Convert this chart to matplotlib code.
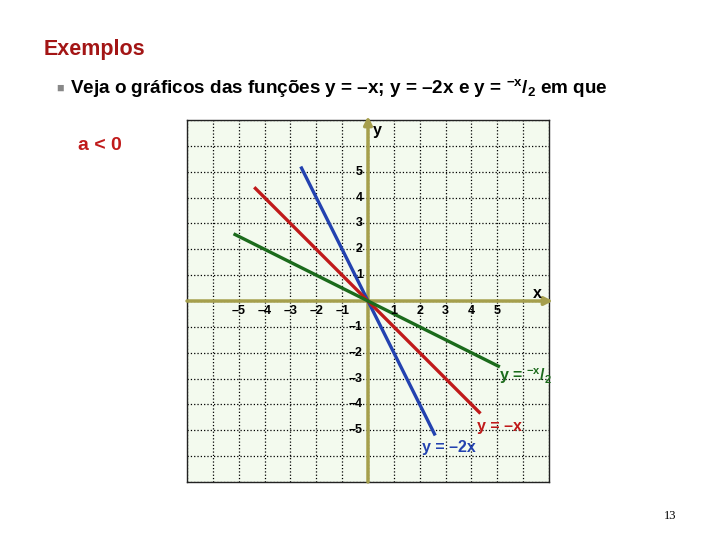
import numpy as np
import matplotlib.pyplot as plt

plt.rcParams['font.family'] = ['Liberation Sans', 'DejaVu Sans']
plt.rcParams['mathtext.fontset'] = 'custom'
plt.rcParams['mathtext.rm'] = 'Liberation Sans:bold'
plt.rcParams['mathtext.it'] = 'Liberation Sans:bold'
plt.rcParams['mathtext.bf'] = 'Liberation Sans:bold'

# data
slopes = [-2, -1, -0.5]
x_ranges = [(-2.6, 2.6), (-4.4, 4.35), (-5.2, 5.1)]
line_colors = ['#2342b0', '#c01a1a', '#1c6b1c']
tick_vals = [-5, -4, -3, -2, -1, 1, 2, 3, 4, 5]
tick_labels = ['–5', '–4', '–3', '–2', '–1', '1', '2', '3', '4', '5']

fig = plt.figure(figsize=(7.2, 5.4), dpi=100)

fig.text(44/720, 1 - 49/540, 'Exemplos', color='#a31515', fontsize=15.5,
         fontweight='bold', va='center', ha='left')
fig.text(56/720, 1 - 89/540, '■', color='#888888', fontsize=9, va='center')
fig.text(70/720, 1 - 88/540,
         r'Veja o gráficos das funções y = –x; y = –2x e y = $^{-x}/_{2}$ em que',
         fontsize=13.6, fontweight='bold', va='center', ha='left')
fig.text(78/720, 1 - 145/540, 'a < 0', color='#c01a1a', fontsize=14,
         fontweight='bold', va='center', ha='left')
fig.text(670/720, 1 - 516/540, '13', fontsize=9, family='Liberation Serif',
         va='center', ha='center')

ax = fig.add_axes([187/720, 1 - 482/540, 362/720, 362/540])
ax.set_facecolor('#f3faee')
ax.set_xlim(-7, 7)
ax.set_ylim(-7, 7)
ax.set_xticks(range(-7, 8))
ax.set_yticks(range(-7, 8))
ax.tick_params(length=0, labelbottom=False, labelleft=False)
ax.grid(True, color='black', linestyle=':', linewidth=0.9)
for s in ax.spines.values():
    s.set_color('#222222')
    s.set_linewidth(1.0)

olive = '#a59f4c'
ax.annotate('', xy=(7.15, 0), xytext=(-7, 0), annotation_clip=False,
            arrowprops=dict(arrowstyle='-|>', color=olive, lw=2.5,
                            mutation_scale=12, shrinkA=0, shrinkB=0))
ax.annotate('', xy=(0, 7.15), xytext=(0, -7), annotation_clip=False,
            arrowprops=dict(arrowstyle='-|>', color=olive, lw=2.5,
                            mutation_scale=12, shrinkA=0, shrinkB=0))

for m, (x0, x1), c in zip(slopes, x_ranges, line_colors):
    xs = np.array([x0, x1])
    ax.plot(xs, m * xs, color=c, lw=2.4, solid_capstyle='butt', zorder=3)

for v, lab in zip(tick_vals, tick_labels):
    ax.text(v, -0.4, lab, fontsize=9, fontweight='bold', ha='center', va='center')
    ax.text(-0.2, v, lab, fontsize=9, fontweight='bold', ha='right', va='center')

ax.text(6.55, 0.3, 'x', fontsize=11.5, fontweight='bold', ha='center', va='center')
ax.text(0.35, 6.6, 'y', fontsize=11.5, fontweight='bold', ha='center', va='center')

ax.text(5.05, -2.9, r'y = $^{-x}/_{2}$', color=line_colors[2], fontsize=11.5,
        fontweight='bold', ha='left', va='center')
ax.text(4.2, -4.85, 'y = –x', color=line_colors[1], fontsize=11.5,
        fontweight='bold', ha='left', va='center')
ax.text(2.1, -5.65, 'y = –2x', color=line_colors[0], fontsize=11.5,
        fontweight='bold', ha='left', va='center')

plt.savefig('out.png', dpi=100)
plt.close()
